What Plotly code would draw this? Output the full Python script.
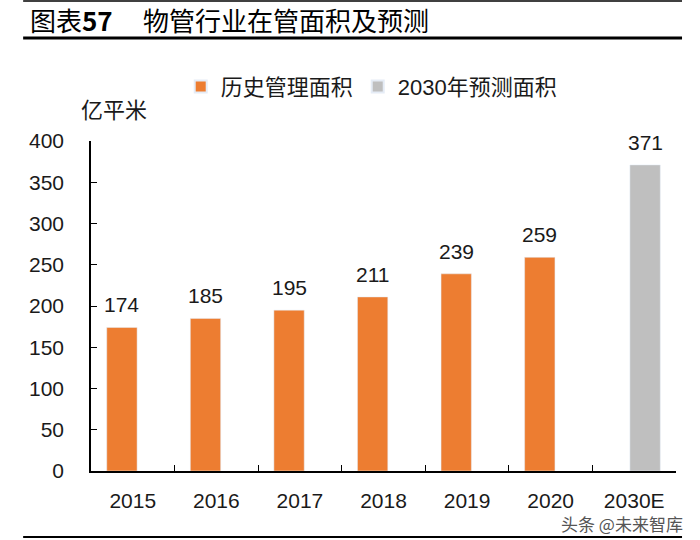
import plotly.graph_objects as go

categories = ["2015", "2016", "2017", "2018", "2019", "2020", "2030E"]
hist_values = [174, 185, 195, 211, 239, 259, None]
fcst_values = [None, None, None, None, None, None, 371]
y_ticks = [0, 50, 100, 150, 200, 250, 300, 350, 400]

FONT = "Liberation Sans, Arial, Noto Sans CJK SC, sans-serif"
CJK = "Noto Sans CJK SC, Liberation Sans, sans-serif"

fig = go.Figure()
fig.add_trace(go.Bar(
    x=categories, y=hist_values, name="历史管理面积",
    marker_color="#ED7D31", width=0.363, offset=-0.3115,
))
fig.add_trace(go.Bar(
    x=categories, y=fcst_values, name="2030年预测面积",
    marker_color="#BFBFBF", width=0.363, offset=-0.0515,
))

# value labels above bars (category index + bar offset)
for vals, dx in ((hist_values, -0.13), (fcst_values, 0.13)):
    for i, v in enumerate(vals):
        if v is None:
            continue
        fig.add_annotation(x=i + dx, y=v, xref="x", yref="y", text=str(v), showarrow=False,
                           xanchor="center", yanchor="bottom", yshift=9,
                           font=dict(size=21, family=FONT, color="#1a1a1a"))

fig.update_layout(
    width=700, height=540,
    margin=dict(l=91, r=24, t=141, b=69),
    paper_bgcolor="white", plot_bgcolor="white",
    barmode="overlay",
    font=dict(family=FONT, size=21, color="#1a1a1a"),
    showlegend=True,
    legend=dict(orientation="h", x=0.479, xanchor="center", y=0.8394, yanchor="middle",
                yref="container", font=dict(size=22, family=FONT),
                traceorder="normal", itemsizing="constant", itemwidth=30),
    xaxis=dict(
        type="category", showline=True, linecolor="black", linewidth=1.5,
        ticks="inside", ticklen=6, tickcolor="black", tickson="boundaries",
        tickfont=dict(size=21, family=FONT), showgrid=False,
        ticklabelstandoff=10, range=[-0.5, 6.5],
    ),
    yaxis=dict(
        range=[0, 400], tickvals=y_ticks, showline=True, linecolor="black",
        linewidth=1.5, ticks="inside", ticklen=6, tickcolor="black",
        tickfont=dict(size=21, family=FONT), showgrid=False, zeroline=False,
        ticklabelstandoff=21,
    ),
)

# title and rules
fig.add_annotation(xref="paper", yref="paper", x=-0.107, y=1.367, xanchor="left", yanchor="middle",
                   text="图表<b>57</b>", showarrow=False,
                   font=dict(size=26, family=CJK, color="black"))
fig.add_annotation(xref="paper", yref="paper", x=0.085, y=1.367, xanchor="left", yanchor="middle",
                   text="物管行业在管面积及预测", showarrow=False,
                   font=dict(size=26, family=CJK, color="black"))
fig.add_shape(type="line", xref="paper", yref="paper", x0=-0.116, x1=1.0103, y0=1.424, y1=1.424,
              line=dict(color="black", width=1.5))
fig.add_shape(type="line", xref="paper", yref="paper", x0=-0.116, x1=1.0103, y0=1.312, y1=1.312,
              line=dict(color="black", width=3))
fig.add_shape(type="line", xref="paper", yref="paper", x0=-0.116, x1=1.0103, y0=-0.2, y1=-0.2,
              line=dict(color="black", width=2))
fig.add_annotation(xref="paper", yref="paper", x=-0.0205, y=1.1015, xanchor="left", yanchor="middle",
                   text="亿平米", showarrow=False,
                   font=dict(size=22, family=CJK, color="#1a1a1a"))
fig.add_annotation(xref="paper", yref="paper", x=1.0154, y=-0.158, xanchor="right", yanchor="middle",
                   text="头条 @未来智库", showarrow=False,
                   font=dict(size=17, family=CJK, color="#555555"))
fig.write_html("out.html", config={"displayModeBar": False},
               post_script="document.body.style.margin='0';")
